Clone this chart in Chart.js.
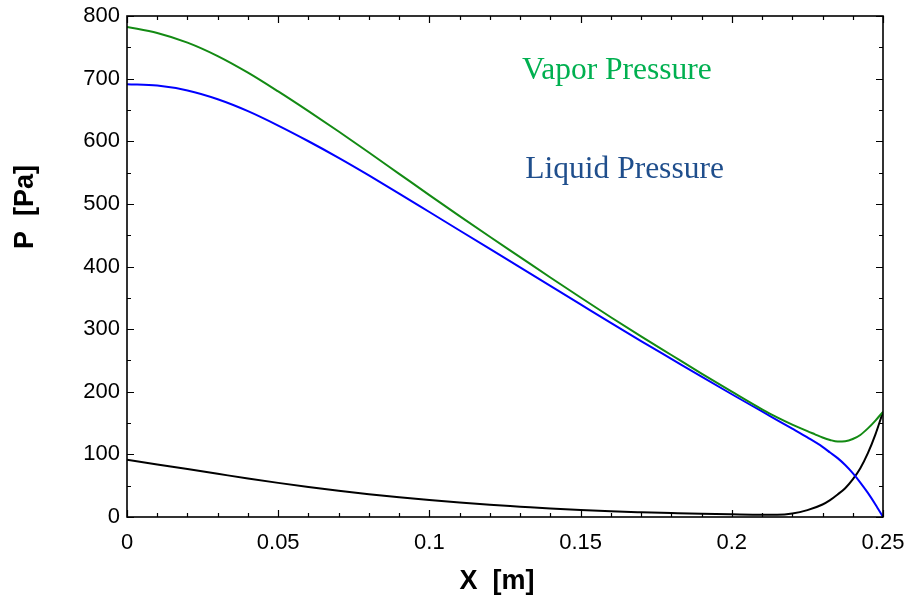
<!DOCTYPE html>
<html>
<head>
<meta charset="UTF-8">
<title>P vs X</title>
<script src="https://cdn.jsdelivr.net/npm/chart.js@4"></script>
<style>
  body { margin: 0; background: #fff; }
  #wrap { width: 911px; height: 598px; }
</style>
</head>
<body>
<div id="wrap"><canvas id="chart" width="911" height="598"></canvas></div>
<script>
// vapor pressure along the pipe
const vaporX = [0, 0.01, 0.02, 0.03, 0.04, 0.05, 0.06, 0.07, 0.08, 0.09, 0.10, 0.11, 0.12, 0.13, 0.14, 0.15, 0.16, 0.17, 0.18, 0.19, 0.20, 0.21, 0.215, 0.22, 0.225, 0.2275, 0.23, 0.2325, 0.235, 0.2375, 0.24, 0.2425, 0.245, 0.2475, 0.25];
const vaporP = [782.5, 773, 757.5, 736, 709.5, 679.5, 648, 615.5, 582, 548, 514, 480.5, 447.5, 415, 382.5, 350.5, 319, 288.5, 258.7, 229, 200.2, 172, 159, 147.5, 137, 132, 127, 123, 120.5, 121, 124.5, 131, 141.5, 154, 168];

// liquid pressure
const liquidX = [0, 0.01, 0.02, 0.03, 0.04, 0.05, 0.06, 0.07, 0.08, 0.09, 0.10, 0.11, 0.12, 0.13, 0.14, 0.15, 0.16, 0.17, 0.18, 0.19, 0.20, 0.21, 0.216, 0.22, 0.225, 0.23, 0.2325, 0.235, 0.2375, 0.24, 0.2425, 0.245, 0.2475, 0.25];
const liquidP = [691, 689, 681, 667, 648, 625, 600, 573.5, 545.5, 516.5, 487, 457.5, 428, 398.5, 369, 339.5, 310, 281, 252.5, 224, 196, 168.5, 152, 141, 127, 112, 103, 94, 83, 70, 55, 38.5, 20, 0];

// vapor minus liquid
const diffX = [0, 0.01, 0.02, 0.03, 0.04, 0.05, 0.06, 0.07, 0.08, 0.09, 0.10, 0.11, 0.12, 0.13, 0.14, 0.15, 0.16, 0.17, 0.18, 0.19, 0.20, 0.21, 0.215, 0.22, 0.225, 0.23, 0.2325, 0.235, 0.2375, 0.24, 0.2425, 0.245, 0.2475, 0.25];
const diffP = [91.5, 84, 76.5, 69, 61.5, 54.5, 48, 42, 36.5, 31.5, 27, 23, 19.5, 16.5, 13.5, 11, 9, 7.5, 6.2, 5, 4.2, 3.6, 3.6, 5.5, 11, 20, 27, 36, 46, 60, 78, 102, 132, 168];

const xTicks = [0, 0.05, 0.1, 0.15, 0.2, 0.25];
const yTicks = [0, 100, 200, 300, 400, 500, 600, 700, 800];

const curveLabels = [
  { text: "Vapor Pressure", x: 0.1306, y: 699, color: "#00b050" },
  { text: "Liquid Pressure", x: 0.1317, y: 541, color: "#1f4e8c" },
];

function toPoints(xs, ys) {
  return xs.map((x, i) => ({ x: x, y: ys[i] }));
}

// frame, inward ticks on all four sides, axis titles and curve labels
const framePlugin = {
  id: "frame",
  afterDatasetsDraw(chart) {
    const ctx = chart.ctx;
    const a = chart.chartArea;
    const xs = chart.scales.x;
    const ys = chart.scales.y;
    ctx.save();
    ctx.strokeStyle = "#000";
    ctx.lineWidth = 1.6;
    ctx.strokeRect(a.left, a.top, a.right - a.left, a.bottom - a.top);

    ctx.lineWidth = 1.2;
    ctx.beginPath();
    for (let i = 0; i <= 25; i++) {
      const v = i / 100;
      const len = i % 5 === 0 ? 7 : 4;
      const px = Math.round(xs.getPixelForValue(v)) + 0.5;
      ctx.moveTo(px, a.bottom); ctx.lineTo(px, a.bottom - len);
      ctx.moveTo(px, a.top); ctx.lineTo(px, a.top + len);
    }
    for (let i = 0; i <= 16; i++) {
      const v = i * 50;
      const len = i % 2 === 0 ? 7 : 4;
      const py = Math.round(ys.getPixelForValue(v)) + 0.5;
      ctx.moveTo(a.left, py); ctx.lineTo(a.left + len, py);
      ctx.moveTo(a.right, py); ctx.lineTo(a.right - len, py);
    }
    ctx.stroke();

    // axis titles
    ctx.fillStyle = "#000";
    ctx.font = "bold 27px 'Liberation Sans', Arial, sans-serif";
    ctx.textBaseline = "alphabetic";
    ctx.textAlign = "center";
    ctx.fillText("X  [m]", 497, 589);
    ctx.save();
    ctx.translate(33, 207);
    ctx.rotate(-Math.PI / 2);
    ctx.fillText("P  [Pa]", 0, 0);
    ctx.restore();

    // curve labels
    ctx.textAlign = "left";
    ctx.font = "31.5px 'Liberation Serif', 'Times New Roman', serif";
    curveLabels.forEach((l) => {
      ctx.fillStyle = l.color;
      ctx.fillText(l.text, xs.getPixelForValue(l.x), ys.getPixelForValue(l.y));
    });
    ctx.restore();
  },
};

const tickFont = { family: "'Liberation Sans', Arial, sans-serif", size: 22 };

new Chart(document.getElementById("chart"), {
  type: "line",
  data: {
    datasets: [
      { label: "Vapor", data: toPoints(vaporX, vaporP), borderColor: "#138a13" },
      { label: "Liquid", data: toPoints(liquidX, liquidP), borderColor: "#0000ff" },
      { label: "Difference", data: toPoints(diffX, diffP), borderColor: "#000000" },
    ],
  },
  options: {
    responsive: false,
    animation: false,
    events: [],
    elements: {
      line: { borderWidth: 2, tension: 0.4, cubicInterpolationMode: "monotone", fill: false },
      point: { radius: 0 },
    },
    layout: { padding: { left: 0, right: 28, top: 16, bottom: 0 } },
    plugins: { legend: { display: false }, tooltip: { enabled: false } },
    scales: {
      x: {
        type: "linear",
        min: 0,
        max: 0.25,
        grid: { display: false, drawTicks: false },
        border: { display: false },
        afterBuildTicks: (scale) => { scale.ticks = xTicks.map((v) => ({ value: v })); },
        afterFit: (scale) => {
          scale.height = 81;
          scale.paddingLeft = 0;
          scale.paddingRight = 0;
        },
        ticks: {
          font: tickFont,
          color: "#000",
          padding: 13,
          maxRotation: 0,
          autoSkip: false,
          callback: (v) => String(Math.round(v * 100) / 100),
        },
      },
      y: {
        type: "linear",
        min: 0,
        max: 800,
        grid: { display: false, drawTicks: false },
        border: { display: false },
        afterBuildTicks: (scale) => { scale.ticks = yTicks.map((v) => ({ value: v })); },
        afterFit: (scale) => {
          scale.width = 127;
          scale.paddingTop = 0;
          scale.paddingBottom = 0;
        },
        ticks: {
          font: tickFont,
          color: "#000",
          padding: 7,
          autoSkip: false,
          callback: (v) => String(v),
        },
      },
    },
  },
  plugins: [framePlugin],
});
</script>
</body>
</html>
